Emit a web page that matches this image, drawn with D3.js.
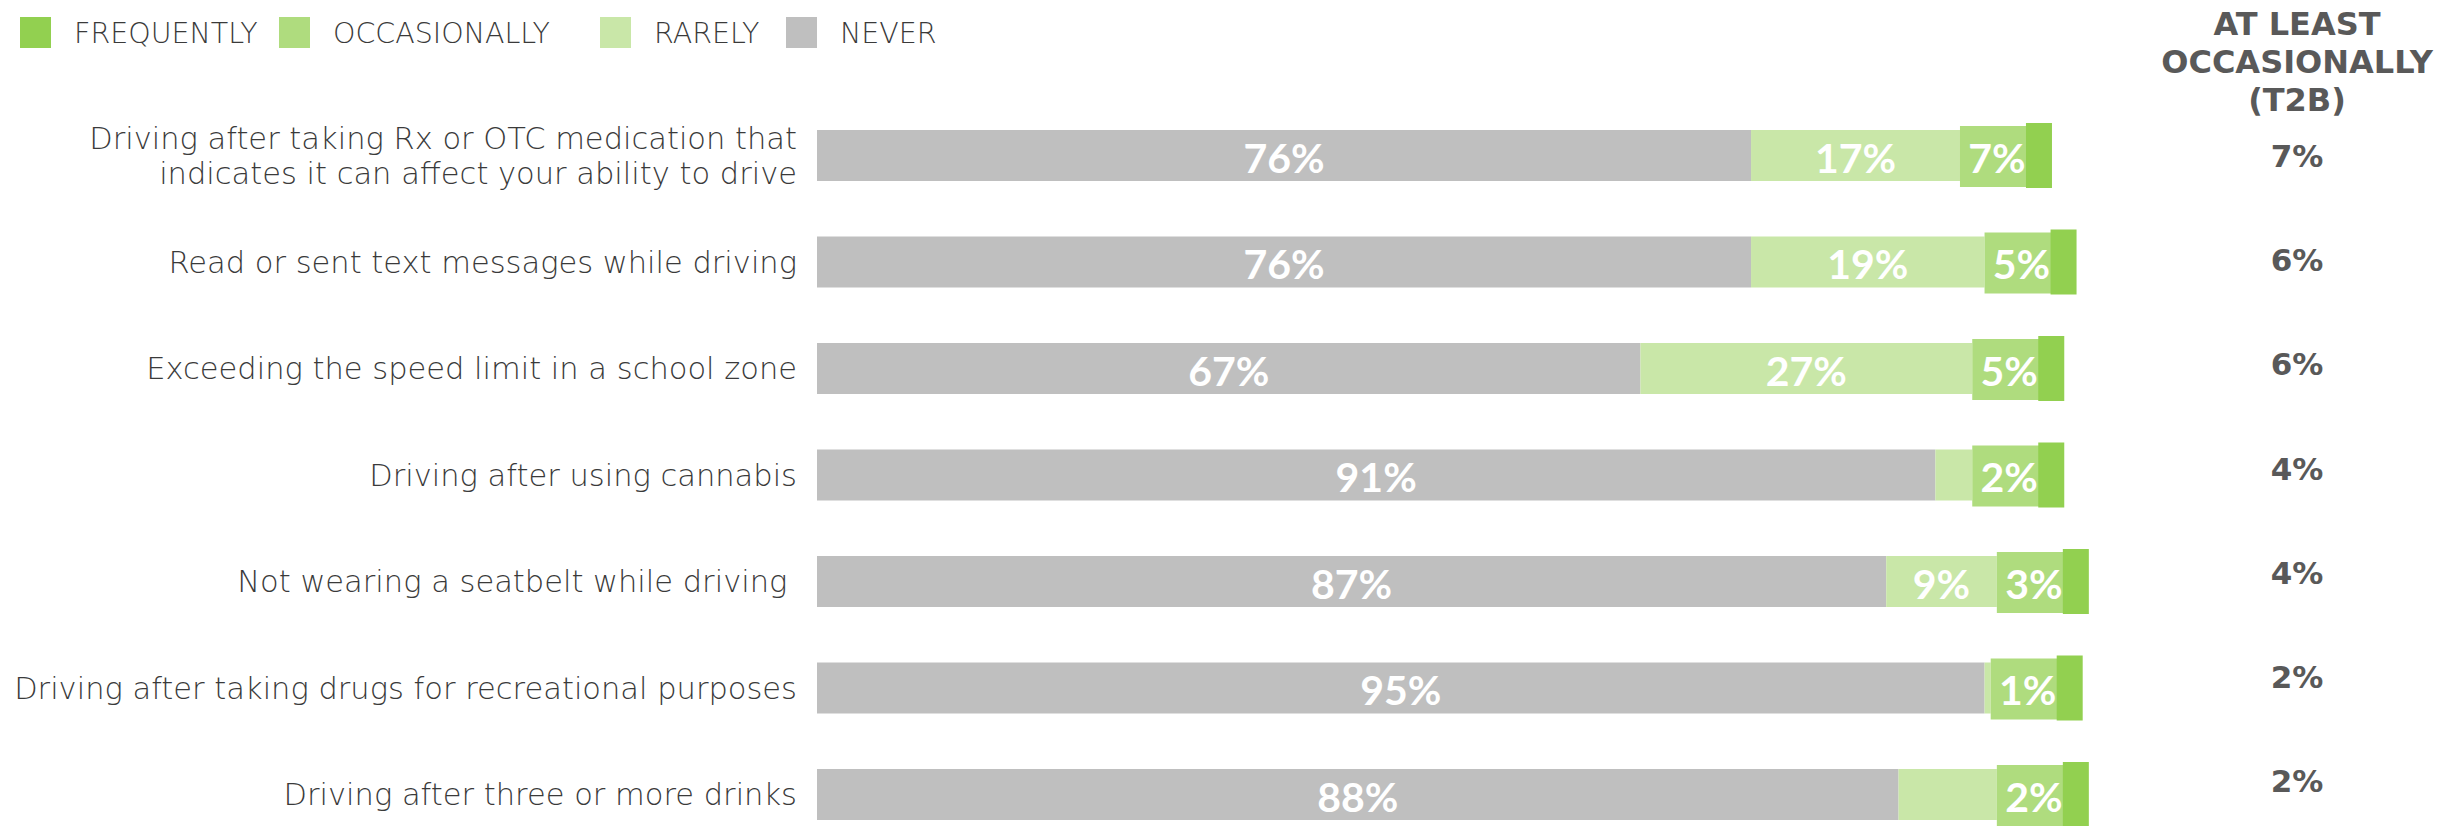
<!DOCTYPE html>
<html>
<head>
<meta charset="utf-8">
<script src="https://cdn.jsdelivr.net/npm/d3@7"></script>
<style>
  html, body { margin: 0; padding: 0; background: #ffffff; }
  svg { display: block; }
</style>
</head>
<body>
<svg id="chart" width="2448" height="826"></svg>
<script>
// ---------------- DATA ----------------
const categories = [
  "Driving after taking Rx or OTC medication that\nindicates it can affect your ability to drive",
  "Read or sent text messages while driving",
  "Exceeding the speed limit in a school zone",
  "Driving after using cannabis",
  "Not wearing a seatbelt while driving ",
  "Driving after taking drugs for recreational purposes",
  "Driving after three or more drinks"
];
const never        = [76, 76, 67, 91, 87, 95, 88];
const rarely       = [17, 19, 27, 3, 9, 0.5, 8];
const occasionally = [7, 5, 5, 2, 3, 1, 2];
const frequently   = [0, 1, 1, 2, 1, 1, 0];
const t2b          = [7, 6, 6, 4, 4, 2, 2];
const seriesNames  = ["FREQUENTLY", "OCCASIONALLY", "RARELY", "NEVER"];
const t2bTitle     = ["AT LEAST", "OCCASIONALLY", "(T2B)"];

// ---------------- STYLE / LAYOUT ----------------
const colors = {
  FREQUENTLY: "#92D050",
  OCCASIONALLY: "#AFDC7E",
  RARELY: "#C9E7A8",
  NEVER: "#BFBFBF"
};
const legendX = [20, 279, 600, 786];
const textGray = "#595959";
const thinGray = "#3a3a3a";
const catFont = "'DejaVu Sans', sans-serif";
const boldFont = "'DejaVu Sans', sans-serif";
const labelFont = "Lato, 'DejaVu Sans', sans-serif";

const svg = d3.select("#chart");
svg.append("rect").attr("width", 2448).attr("height", 826).attr("fill", "#fff");

const x = d3.scaleLinear().domain([0, 100]).range([817, 2046]);
const y = d3.scalePoint().domain(d3.range(categories.length)).range([155.5, 794.5]);
const yT2B = d3.scalePoint().domain(d3.range(categories.length)).range([156, 781]);
const barH = 51;
const pct = v => d3.format("d")(v) + "%";

const rows = categories.map((c, i) => ({
  i, cat: c,
  never: never[i], rarely: rarely[i], occ: occasionally[i], freq: frequently[i], t2b: t2b[i]
}));

// ---------------- LEGEND ----------------
const legend = svg.append("g").attr("class", "legend");
seriesNames.forEach((name, k) => {
  const lx = legendX[k];
  legend.append("rect")
    .attr("x", lx).attr("y", 17).attr("width", 31).attr("height", 31)
    .attr("fill", colors[name]);
  legend.append("text")
    .attr("x", lx + 31 + 23).attr("y", 33)
    .attr("dominant-baseline", "central")
    .attr("font-family", catFont).attr("font-weight", 200)
    .attr("font-size", 28.5).attr("fill", thinGray)
    .text(name);
});

// ---------------- CATEGORY LABELS ----------------
const catG = svg.append("g").attr("class", "categories");
rows.forEach(r => {
  const lines = r.cat.split("\n");
  const lh = 35;
  const t = catG.append("text")
    .attr("x", 797)
    .attr("text-anchor", "end")
    .attr("font-family", catFont).attr("font-weight", 200)
    .attr("font-size", 30.5).attr("fill", thinGray)
    .style("white-space", "pre");
  lines.forEach((ln, k) => {
    t.append("tspan")
      .attr("x", 797)
      .attr("y", y(r.i) + (k - (lines.length - 1) / 2) * lh)
      .attr("dominant-baseline", "central")
      .text(ln);
  });
});

// ---------------- BARS ----------------
const barsG = svg.append("g").attr("class", "bars");
rows.forEach(r => {
  const top = y(r.i) - barH / 2;
  const cy = y(r.i) + 1.5;
  const g = barsG.append("g");
  // never
  g.append("rect")
    .attr("x", x(0)).attr("y", top)
    .attr("width", x(r.never) - x(0)).attr("height", barH)
    .attr("fill", colors.NEVER);
  // rarely
  g.append("rect")
    .attr("x", x(r.never)).attr("y", top)
    .attr("width", x(r.never + r.rarely) - x(r.never)).attr("height", barH)
    .attr("fill", colors.RARELY);
  // never label
  g.append("text")
    .attr("x", (x(0) + x(r.never)) / 2).attr("y", cy)
    .attr("text-anchor", "middle").attr("dominant-baseline", "central")
    .attr("font-family", labelFont).attr("font-weight", 700)
    .attr("font-size", 41).attr("fill", "#fff")
    .text(pct(r.never));
  // rarely label (only where it fits)
  if (r.rarely >= 9) {
    g.append("text")
      .attr("x", (x(r.never) + x(r.never + r.rarely)) / 2).attr("y", cy)
      .attr("text-anchor", "middle").attr("dominant-baseline", "central")
      .attr("font-family", labelFont).attr("font-weight", 700)
      .attr("font-size", 41).attr("fill", "#fff")
      .text(pct(r.rarely));
  }
  // occasionally: highlighted label box
  const ox = x(r.never + r.rarely);
  const ow = Math.max(x(r.occ) - x(0), 76);
  g.append("rect")
    .attr("x", ox).attr("y", top - 4)
    .attr("width", ow).attr("height", barH + 10)
    .attr("fill", colors.OCCASIONALLY);
  g.append("text")
    .attr("x", ox + 37).attr("y", cy)
    .attr("text-anchor", "middle").attr("dominant-baseline", "central")
    .attr("font-family", labelFont).attr("font-weight", 700)
    .attr("font-size", 41).attr("fill", "#fff")
    .text(pct(r.occ));
  // frequently
  const fw = Math.max(x(r.freq) - x(0), 26);
  g.append("rect")
    .attr("x", ox + 66).attr("y", top - 7)
    .attr("width", fw).attr("height", barH + 14)
    .attr("fill", colors.FREQUENTLY);
});

// ---------------- T2B COLUMN ----------------
const t2bG = svg.append("g").attr("class", "t2b");
t2bTitle.forEach((ln, k) => {
  t2bG.append("text")
    .attr("x", 2297).attr("y", 35 + k * 38)
    .attr("text-anchor", "middle")
    .attr("font-family", boldFont).attr("font-weight", 700)
    .attr("font-size", 32).attr("fill", textGray)
    .text(ln);
});
rows.forEach(r => {
  t2bG.append("text")
    .attr("x", 2297).attr("y", yT2B(r.i))
    .attr("text-anchor", "middle").attr("dominant-baseline", "central")
    .attr("font-family", boldFont).attr("font-weight", 700)
    .attr("font-size", 31).attr("fill", textGray)
    .text(pct(r.t2b));
});
</script>
</body>
</html>
